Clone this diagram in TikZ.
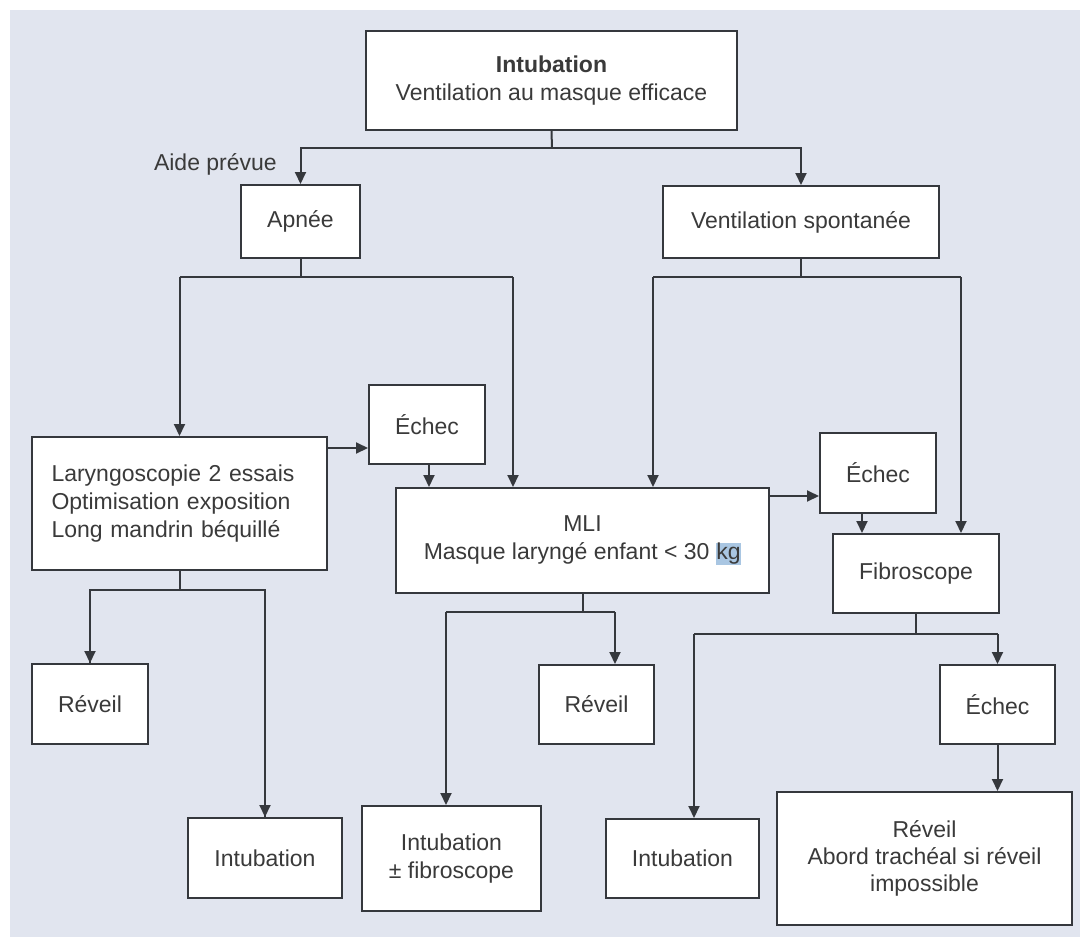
\documentclass[tikz,border=0pt]{standalone}
\usepackage{fontspec}
\setmainfont{Liberation Sans}
\usetikzlibrary{arrows.meta,calc}
\definecolor{panel}{HTML}{E1E5EF}
\definecolor{ink}{HTML}{35383D}
\definecolor{txt}{HTML}{3A3A3A}
\definecolor{hl}{HTML}{A9C6E2}
\begin{document}
\begin{tikzpicture}[x=1pt,y=-1pt,
  box/.style={draw=ink,line width=2pt,fill=white,align=center,inner sep=0pt,text=txt,
    font=\fontsize{23}{28}\selectfont},
  conn/.style={draw=ink,line width=2pt},
  arr/.style={conn,-{Triangle[width=11pt,length=12pt]}}]
\useasboundingbox (0,0) rectangle (1080,937);
\fill[white] (0,0) rectangle (1080,937);
\fill[panel] (10,10) rectangle (1080,937);

% nodes
\node[box,minimum width=371pt,minimum height=99pt] (top) at (551.5,80.5) {{\bfseries Intubation}\\Ventilation au masque efficace};
\node[box,minimum width=119pt,minimum height=73pt] (apnee) at (300.5,221.5) {Apnée};
\node[box,minimum width=276pt,minimum height=72pt] (vs) at (801,222) {Ventilation spontanée};
\node[box,minimum width=295pt,minimum height=133pt,text width=256pt,align=left] (laryn) at (179.5,503.5) {Laryngoscopie 2 essais\\Optimisation exposition\\Long mandrin béquillé};
\node[box,minimum width=116pt,minimum height=79pt] (echec1) at (427,424.5) {Échec};
\node[box,minimum width=373pt,minimum height=105pt] (mli) at (582.5,540.5) {MLI\\Masque laryngé enfant < 30 {\setlength{\fboxsep}{0.5pt}\colorbox{hl}{kg}}};
\node[box,minimum width=116pt,minimum height=80pt] (echec2) at (878,473) {Échec};
\node[box,minimum width=166pt,minimum height=79pt] (fibro) at (916,573.5) {Fibroscope};
\node[box,minimum width=116pt,minimum height=80pt] (reveil1) at (90,704) {Réveil};
\node[box,minimum width=154pt,minimum height=80pt] (intub1) at (265,858) {Intubation};
\node[box,minimum width=115pt,minimum height=79pt] (reveil2) at (596.5,704.5) {Réveil};
\node[box,minimum width=179pt,minimum height=105pt] (intubfib) at (451.5,858.5) {Intubation\\± fibroscope};
\node[box,minimum width=153pt,minimum height=79pt] (intub3) at (682.5,858.5) {Intubation};
\node[box,minimum width=115pt,minimum height=79pt] (echec3) at (997.5,704.5) {Échec};
\node[box,minimum width=295pt,minimum height=133pt,font=\fontsize{23}{27}\selectfont] (reveil3) at (924.5,858.5) {Réveil\\Abord trachéal si réveil\\impossible};
\node[anchor=east,text=txt,font=\fontsize{23}{28}\selectfont,inner sep=0pt] (aide) at (277,164) {Aide prévue};

% junction coordinates
\coordinate (j1) at (552,148);
\coordinate (a1) at (300.5,277);
\coordinate (a1l) at (179.5,277);
\coordinate (a1r) at (513,277);
\coordinate (v1) at (801,277);
\coordinate (v1l) at (653,277);
\coordinate (v1r) at (961,277);
\coordinate (b1) at (179.5,590);
\coordinate (m1) at (582.5,612);
\coordinate (m1l) at (446,612);
\coordinate (m1r) at (615,612);
\coordinate (f1) at (916,634);
\coordinate (f1l) at (694,634);
\coordinate (f1r) at (997.5,634);

% connectors
\draw[conn] (top.south) -- (j1);
\draw[arr] (j1) -| (apnee.north);
\draw[arr] (j1) -| (vs.north);

\draw[conn] (apnee.south) -- (a1);
\draw[conn] (a1l) -- (a1r);
\draw[arr] (a1l) -- (laryn.north);
\draw[arr] (a1r) -- (a1r |- mli.north);

\draw[conn] (vs.south) -- (v1);
\draw[conn] (v1l) -- (v1r);
\draw[arr] (v1l) -- (v1l |- mli.north);
\draw[arr] (v1r) -- (v1r |- fibro.north);

\draw[arr] ([yshift=-12pt]laryn.north east) coordinate (le) -- (le -| echec1.west);
\draw[arr] ([xshift=2pt]echec1.south) coordinate (e1s) -- (e1s |- mli.north);
\draw[arr] ([yshift=-9pt]mli.north east) coordinate (me) -- (me -| echec2.west);
\draw[arr] ([xshift=-16pt]echec2.south) coordinate (e2s) -- (e2s |- fibro.north);

\draw[conn] (laryn.south) -- (b1);
\draw[conn] (b1) -| (reveil1.north);
\draw[conn] (b1) -| (intub1.north);
\draw[arr] (reveil1.north |- b1) -- (reveil1.north);
\draw[arr] (intub1.north |- b1) -- (intub1.north);

\draw[conn] (mli.south) -- (m1);
\draw[conn] (m1l) -- (m1r);
\draw[arr] (m1l) -- (m1l |- intubfib.north);
\draw[arr] (m1r) -- (m1r |- reveil2.north);

\draw[conn] (fibro.south) -- (f1);
\draw[conn] (f1l) -- (f1r);
\draw[arr] (f1l) -- (f1l |- intub3.north);
\draw[arr] (f1r) -- (echec3.north);

\draw[arr] (echec3.south) -- (echec3.south |- reveil3.north);
\end{tikzpicture}
\end{document}
